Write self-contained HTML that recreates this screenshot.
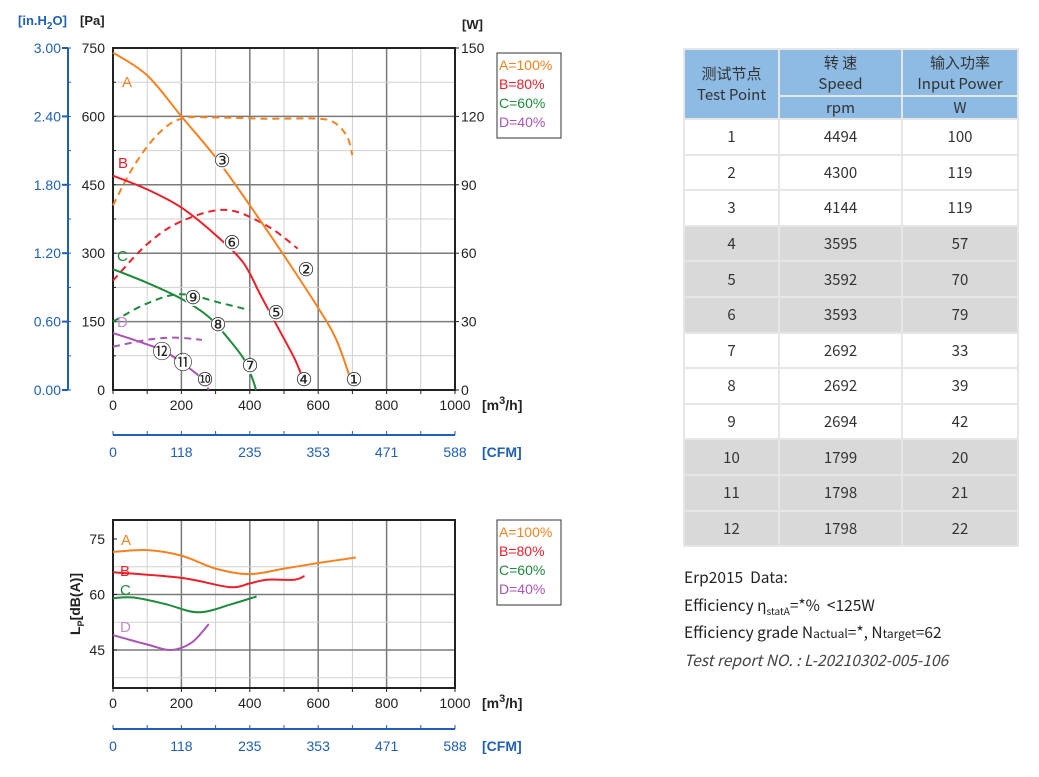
<!DOCTYPE html>
<html><head><meta charset="utf-8"><style>
body{margin:0;background:#fff;width:1039px;height:777px;overflow:hidden;position:relative;font-family:"Liberation Sans","Noto Sans CJK SC",sans-serif}
svg{position:absolute;left:0;top:0}
.tb{position:absolute;left:683px;top:48px;border-collapse:collapse;font-family:"Noto Sans CJK SC","Liberation Sans",sans-serif;font-size:15px;color:#333;text-align:center}
.tb td{padding:0;border:2px solid #e6e6e6;}
.tb tr.h td{background:#8dbbe3;border-color:#e6e6e6}
.tb tr.g td{background:#d9d9d9}
.note{position:absolute;left:684px;font-family:"Noto Sans CJK SC","Liberation Sans",sans-serif;font-size:15.5px;color:#222}
</style></head><body>
<svg id="s" width="1039" height="777" font-family="Liberation Sans, sans-serif" font-size="14"></svg>
<table class="tb">
<tr class="h" style="height:47px"><td rowspan="2" style="width:93px;line-height:21px">测试节点<br>Test Point</td><td style="width:121px;line-height:21px">转 速<br>Speed</td><td style="width:114px;line-height:21px">输入功率<br>Input Power</td></tr>
<tr class="h" style="height:23px"><td>rpm</td><td>W</td></tr>
<tr style="height:35.6px"><td>1</td><td>4494</td><td>100</td></tr>
<tr style="height:35.6px"><td>2</td><td>4300</td><td>119</td></tr>
<tr style="height:35.6px"><td>3</td><td>4144</td><td>119</td></tr>
<tr class="g" style="height:35.6px"><td>4</td><td>3595</td><td>57</td></tr>
<tr class="g" style="height:35.6px"><td>5</td><td>3592</td><td>70</td></tr>
<tr class="g" style="height:35.6px"><td>6</td><td>3593</td><td>79</td></tr>
<tr style="height:35.6px"><td>7</td><td>2692</td><td>33</td></tr>
<tr style="height:35.6px"><td>8</td><td>2692</td><td>39</td></tr>
<tr style="height:35.6px"><td>9</td><td>2694</td><td>42</td></tr>
<tr class="g" style="height:35.6px"><td>10</td><td>1799</td><td>20</td></tr>
<tr class="g" style="height:35.6px"><td>11</td><td>1798</td><td>21</td></tr>
<tr class="g" style="height:35.6px"><td>12</td><td>1798</td><td>22</td></tr>
</table>
<div class="note" style="top:566px">Erp2015&nbsp;&nbsp;Data:</div>
<div class="note" style="top:594px">Efficiency η<sub style="font-size:10px">statA</sub>=*%&nbsp;&nbsp;&lt;125W</div>
<div class="note" style="top:621px">Efficiency grade N<span style="font-size:12px">actual</span>=*, N<span style="font-size:12px">target</span>=62</div>
<div class="note" style="top:649px;font-style:italic;color:#444">Test report NO. : L-20210302-005-106</div>
<script>
const s=document.getElementById('s');let h='';
const X0=113,X1=455;const fx=q=>X0+q*(X1-X0)/1000;
const OR='#f58220',RD='#e8202a',GR='#1f8a3c',PU='#a855b5',BL='#1f5fb4';
function sm(pts){let d='M'+pts[0][0].toFixed(1)+','+pts[0][1].toFixed(1);for(let i=0;i<pts.length-1;i++){const p0=pts[i-1]||pts[i],p1=pts[i],p2=pts[i+1],p3=pts[i+2]||p2;d+=' C'+(p1[0]+(p2[0]-p0[0])/6).toFixed(1)+','+(p1[1]+(p2[1]-p0[1])/6).toFixed(1)+' '+(p2[0]-(p3[0]-p1[0])/6).toFixed(1)+','+(p2[1]-(p3[1]-p1[1])/6).toFixed(1)+' '+p2[0].toFixed(1)+','+p2[1].toFixed(1);}return d;}
function grid(yT,yB,hs,hm){for(let i=1;i<10;i++){const x=fx(i*100);h+=`<line x1="${x}" y1="${yT}" x2="${x}" y2="${yB}" stroke="${i%2?'#d0d0d0':'#7a7a7a'}" stroke-width="${i%2?1:1.5}"/>`;}
hm.forEach(y=>h+=`<line x1="${X0}" y1="${y}" x2="${X1}" y2="${y}" stroke="#d0d0d0"/>`);hs.forEach(y=>h+=`<line x1="${X0}" y1="${y}" x2="${X1}" y2="${y}" stroke="#7a7a7a" stroke-width="1.5"/>`);
h+=`<rect x="${X0}" y="${yT}" width="${X1-X0}" height="${yB-yT}" fill="none" stroke="#222" stroke-width="2"/>`;
for(let i=0;i<=10;i++){const x=fx(i*100);h+=`<line x1="${x}" y1="${yB}" x2="${x}" y2="${yB+4}" stroke="#222"/>`;if(i%2==0)h+=`<text x="${x}" y="${yB+20}" text-anchor="middle" fill="#222">${i*100}</text>`;}
h+=`<text x="482" y="${yB+20}" font-weight="bold" fill="#222">[m<tspan dy="-6" font-size="11">3</tspan><tspan dy="6">/h]</tspan></text>`;}
function cfm(y){h+=`<line x1="${X0}" y1="${y}" x2="${X1}" y2="${y}" stroke="${BL}" stroke-width="2"/>`;for(let i=0;i<=10;i++){const x=fx(i*100);h+=`<line x1="${x}" y1="${y-4}" x2="${x}" y2="${y}" stroke="${BL}"/>`;}
['0','118','235','353','471','588'].forEach((t,i)=>h+=`<text x="${fx(i*200)}" y="${y+22}" text-anchor="middle" fill="${BL}">${t}</text>`);h+=`<text x="482" y="${y+22}" font-weight="bold" fill="${BL}">[CFM]</text>`;}
function legend(y){h+=`<rect x="497" y="${y}" width="64" height="85" fill="#fff" stroke="#333"/>`;[['A=100%',OR],['B=80%',RD],['C=60%',GR],['D=40%',PU]].forEach((l,i)=>h+=`<text x="499" y="${y+17+i*19}" fill="${l[1]}">${l[0]}</text>`);}
const PY=p=>390-p*342/750;
let hs=[],hm=[];for(let i=1;i<5;i++)hs.push(PY(i*150));for(let i=0;i<5;i++)hm.push(PY(75+i*150));
grid(48,390,hs,hm);
for(let i=0;i<=5;i++){const y=PY(i*150);h+=`<text x="105" y="${y+5}" text-anchor="end" fill="#222">${i*150}</text><text x="461" y="${y+5}" fill="#222">${i*30}</text><line x1="455" y1="${y}" x2="459" y2="${y}" stroke="#222"/><text x="61" y="${y+5}" text-anchor="end" fill="${BL}">${(i*0.6).toFixed(2)}</text><line x1="62" y1="${y}" x2="68" y2="${y}" stroke="${BL}" stroke-width="2"/>`;}
for(let i=0;i<=10;i++){const y=PY(i*75);h+=`<line x1="68" y1="${y}" x2="71" y2="${y}" stroke="${BL}"/><line x1="113" y1="${y}" x2="116" y2="${y}" stroke="#222"/>`;}
h+=`<line x1="68" y1="48" x2="68" y2="390" stroke="${BL}" stroke-width="2"/>`;
h+=`<text x="18" y="25" font-weight="bold" font-size="13" fill="${BL}">[in.H<tspan dy="4" font-size="10">2</tspan><tspan dy="-4">O]</tspan></text><text x="80" y="25" font-weight="bold" font-size="13" fill="#222">[Pa]</text><text x="462" y="29" font-weight="bold" font-size="13" fill="#222">[W]</text>`;
const P=a=>a.map(p=>[fx(p[0]),PY(p[1])]),W=a=>a.map(p=>[fx(p[0]),PY(p[1]*5)]);
function cur(d,c,dash){h+=`<path d="${sm(d)}" fill="none" stroke="${c}" stroke-width="2" ${dash?'stroke-dasharray="7,5"':''}/>`;}
cur(W([[0,81],[60,98],[130,112],[200,119],[300,119.5],[450,119],[600,119],[650,117],[685,111],[700,103]]),OR,1);
cur(W([[0,48],[100,64],[200,74],[330,79],[450,72],[540,62]]),RD,1);
cur(W([[0,30],[100,38],[200,42],[320,38],[400,35]]),GR,1);
cur(W([[0,19],[100,22],[180,23],[260,22]]),PU,1);
cur(P([[0,740],[100,690],[200,600],[300,510],[400,405],[500,295],[600,180],[650,115],[685,45],[698,5]]),OR);
cur(P([[0,470],[100,440],[200,400],[300,340],[380,280],[430,210],[480,140],[530,70],[555,25]]),RD);
cur(P([[0,265],[100,235],[200,200],[280,160],[340,110],[385,65],[410,20],[418,0]]),GR);
cur(P([[0,125],[80,105],[150,85],[210,55],[260,25],[280,0]]),PU);
[['A',122,87,OR],['B',118,168,RD],['C',117,261,GR],['D',117,327,'#c58ccf']].forEach(l=>h+=`<text x="${l[1]}" y="${l[2]}" font-size="15" fill="${l[3]}">${l[0]}</text>`);
[['③',222,161],['②',306,270],['①',354,380],['⑥',232,243],['⑤',276,313],['④',304,380],['⑨',193,298],['⑧',218,325],['⑦',250,366],['⑫',162,352],['⑪',183,363],['⑩',205,380]].forEach(c=>h+=`<circle cx="${c[1]}" cy="${c[2]}" r="8" fill="#fff"/><text x="${c[1]}" y="${c[2]+6}" text-anchor="middle" font-size="19" font-family="DejaVu Sans, sans-serif" fill="#222">${c[0]}</text>`);
legend(53);cfm(435);
const DY=d=>539+(75-d)*55.5/15;
hs=[DY(60),DY(45)];hm=[DY(67.5),DY(52.5),DY(37.5)];grid(520,688,hs,hm);
[75,60,45].forEach(d=>h+=`<text x="105" y="${DY(d)+5}" text-anchor="end" fill="#222">${d}</text><line x1="113" y1="${DY(d)}" x2="117" y2="${DY(d)}" stroke="#222"/>`);
h+=`<text transform="translate(80,604) rotate(-90)" text-anchor="middle" font-weight="bold" font-size="14" fill="#222">L<tspan dy="4" font-size="9">P</tspan><tspan dy="-4">[dB(A)]</tspan></text>`;
const D=a=>a.map(p=>[fx(p[0]),DY(p[1])]);
cur(D([[0,71.5],[100,72],[200,70.5],[300,67],[400,65.5],[500,67],[600,68.5],[710,70]]),OR);
cur(D([[0,66],[200,64.5],[340,62],[400,63],[450,64],[530,64],[560,65]]),RD);
cur(D([[0,59],[60,59.2],[150,57.5],[250,55.2],[350,57.5],[420,59.5]]),GR);
cur(D([[0,49],[100,46.5],[170,45],[230,47],[280,52]]),PU);
[['A',121,545,OR],['B',120,576,RD],['C',120,595,GR],['D',120,632,'#c58ccf']].forEach(l=>h+=`<text x="${l[1]}" y="${l[2]}" font-size="15" fill="${l[3]}">${l[0]}</text>`);
legend(520);cfm(729);
s.innerHTML=h;
</script>
</body></html>
